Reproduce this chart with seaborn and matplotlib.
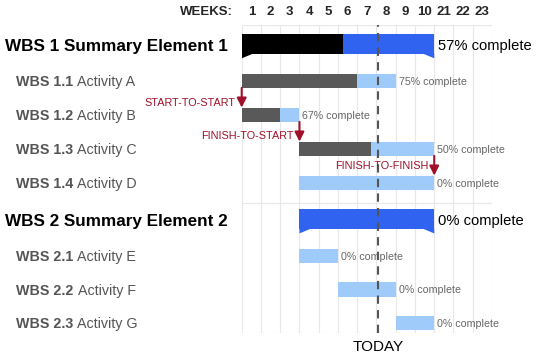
import numpy as np
import matplotlib.pyplot as plt
import seaborn as sns
from matplotlib.patches import Polygon
from matplotlib.transforms import blended_transform_factory

# Tasks (top to bottom)
task_ids = ["WBS 1", "WBS 1.1", "WBS 1.2", "WBS 1.3", "WBS 1.4",
            "WBS 2", "WBS 2.1", "WBS 2.2", "WBS 2.3"]
task_names = ["Summary Element 1", "Activity A", "Activity B", "Activity C", "Activity D",
              "Summary Element 2", "Activity E", "Activity F", "Activity G"]
is_summary = [True, False, False, False, False, True, False, False, False]
start_week = [0, 0, 0, 3, 3, 3, 3, 5, 8]
end_week = [10, 8, 3, 10, 10, 10, 5, 8, 10]
done_until = [5.24, 6, 2, 6.7, 3, 3, 3, 5, 8]
pct_complete = [57, 75, 67, 50, 0, 0, 0, 0, 0]
row_pos = [0, 1, 2, 3, 4, 5.15, 6.15, 7.13, 8.12]

week_labels = ["1", "2", "3", "4", "5", "6", "7", "8", "9", "10", "21", "22", "23"]
today_week = 7.07

# dependency arrows: label, week, from task index, to task index
dep_labels = ["START-TO-START", "FINISH-TO-START", "FINISH-TO-FINISH"]
dep_week = [0, 3, 10]
dep_from = [1, 2, 3]
dep_to = [2, 3, 4]

# colours
SUM_DONE = "#000000"
SUM_TODO = "#3064f0"
ACT_DONE = "#595959"
ACT_TODO = "#9ecbf9"
DEP_RED = "#a0102a"
GRAY_TXT = "#555555"

sns.set_theme(style="white")
plt.rcParams["font.family"] = ["Liberation Sans", "DejaVu Sans"]

fig = plt.figure(figsize=(5.4, 3.59), dpi=100)
ax = fig.add_axes([0.4476, 0.0724, 0.4635, 0.858])
lab_tr = blended_transform_factory(fig.transFigure, ax.transData)

for i in range(len(task_ids)):
    y = row_pos[i]
    s, e, d = start_week[i], end_week[i], done_until[i]
    if is_summary[i]:
        top, bot, tail = -0.35, 0.22, 0.36
        ax.barh(y + (top + bot) / 2, d - s, left=s, height=bot - top,
                color=SUM_DONE, linewidth=0, zorder=3)
        ax.barh(y + (top + bot) / 2, e - d, left=d, height=bot - top,
                color=SUM_TODO, linewidth=0, zorder=3)
        left_col = SUM_DONE if d > s else SUM_TODO
        right_col = SUM_TODO if e > d else SUM_DONE
        ax.add_patch(Polygon([(s, y + bot), (s + 0.6, y + bot), (s, y + tail)],
                             closed=True, color=left_col, lw=0, zorder=3))
        ax.add_patch(Polygon([(e, y + bot), (e - 0.6, y + bot), (e, y + tail)],
                             closed=True, color=right_col, lw=0, zorder=3))
        ax.text(e + 0.2, y, f"{pct_complete[i]}% complete", fontsize=10.6,
                color="black", va="center", ha="left", zorder=4)
        ax.text(5 / 540, y, f"{task_ids[i]} {task_names[i]}", fontsize=12.3,
                fontweight="bold", color="black", va="center", ha="left",
                transform=lab_tr, clip_on=False)
    else:
        yc = y + 0.03
        ax.barh(yc, d - s, left=s, height=0.42, color=ACT_DONE, linewidth=0, zorder=3)
        ax.barh(yc, e - d, left=d, height=0.42, color=ACT_TODO, linewidth=0, zorder=3)
        ax.text(e + 0.15, yc + 0.02, f"{pct_complete[i]}% complete", fontsize=7.7,
                color="#666666", va="center", ha="left", zorder=4)
        t1 = ax.text(16 / 540, y + 0.06, task_ids[i], fontsize=10.3, fontweight="bold",
                     color=GRAY_TXT, va="center", ha="left", transform=lab_tr,
                     clip_on=False)
        ax.annotate(task_names[i], xy=(1, 0), xycoords=t1, xytext=(3, 0),
                    textcoords="offset points", fontsize=10.3, color=GRAY_TXT,
                    va="bottom", ha="left", annotation_clip=False)

# dependency arrows
text_dy = [0.67, 0.65, 0.52]
for k, (lab, x, a, b) in enumerate(zip(dep_labels, dep_week, dep_from, dep_to)):
    y0 = row_pos[a] + 0.23
    y1 = row_pos[b] - 0.19
    ax.annotate("", xy=(x, y1), xytext=(x, y0),
                arrowprops=dict(arrowstyle="-|>", color=DEP_RED, lw=1.5,
                                mutation_scale=14, shrinkA=0, shrinkB=0),
                zorder=5, annotation_clip=False)
    ax.text(x - 0.3, row_pos[a] + text_dy[k], lab, fontsize=7.8, color=DEP_RED,
            ha="right", va="center", zorder=5)

# today line
ax.axvline(today_week, color="#555555", lw=1.5, ls=(0, (4, 3)), zorder=4)
ax.text(today_week, 8.85, "TODAY", fontsize=11, color="black",
        ha="center", va="center", clip_on=False)

# grid and axes
ax.set_xlim(0, 13)
ax.set_ylim(8.44, -0.62)
ax.set_xticks(np.arange(14))
ax.set_xticklabels([])
ax.set_xticks(np.arange(13) + 0.5, minor=True)
ax.set_xticklabels(week_labels, minor=True, fontsize=9.5, fontweight="bold")
ax.xaxis.set_ticks_position("top")
ax.tick_params(axis="x", which="both", length=0, pad=5)
ax.set_yticks([])
ax.grid(axis="x", which="major", color="#e8e8e8", lw=0.8, zorder=0)
for yl in [-0.62, 4.62, 8.44]:
    ax.axhline(yl, color="#e8e8e8", lw=0.8, zorder=0)
for sp in ax.spines.values():
    sp.set_visible(False)

trans = blended_transform_factory(ax.transData, ax.transAxes)
ax.text(-0.45, 1.022, "WEEKS:", transform=trans, fontsize=9.5, fontweight="bold",
        ha="right", va="bottom", clip_on=False)

fig.savefig("out.png", dpi=100)
